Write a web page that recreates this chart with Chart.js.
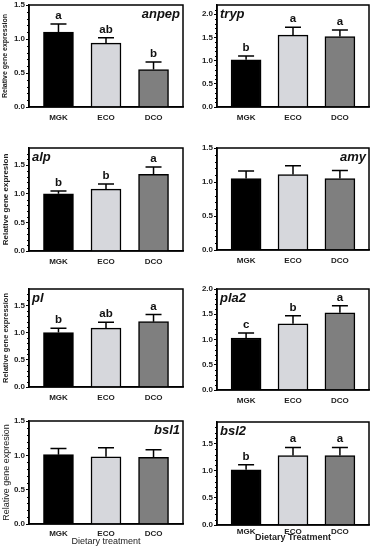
<!DOCTYPE html>
<html>
<head>
<meta charset="utf-8">
<script src="https://cdn.jsdelivr.net/npm/chart.js@4.4.0/dist/chart.umd.min.js"></script>
<style>
html, body { margin: 0; padding: 0; background: #fff; }
#wrap { position: relative; width: 374px; height: 550px; overflow: hidden; }
.panel { position: absolute; }
</style>
</head>
<body>
<div id="wrap"></div>
<script>
const categories = ['MGK', 'ECO', 'DCO'];
const genes = ['anpep', 'tryp', 'alp', 'amy', 'pl', 'pla2', 'bsl1', 'bsl2'];

// means and SEM (upper error)
const anpepMean = [1.10, 0.94, 0.55];  const anpepSem = [0.12, 0.08, 0.11];
const trypMean  = [1.02, 1.55, 1.52];  const trypSem  = [0.08, 0.17, 0.14];
const alpMean   = [1.00, 1.08, 1.34];  const alpSem   = [0.05, 0.09, 0.13];
const amyMean   = [1.05, 1.11, 1.05];  const amySem   = [0.11, 0.13, 0.12];
const plMean    = [1.00, 1.08, 1.20];  const plSem    = [0.08, 0.11, 0.13];
const pla2Mean  = [1.03, 1.31, 1.53];  const pla2Sem  = [0.10, 0.16, 0.14];
const bsl1Mean  = [1.01, 0.98, 0.97];  const bsl1Sem  = [0.09, 0.13, 0.11];
const bsl2Mean  = [1.02, 1.28, 1.28];  const bsl2Sem  = [0.09, 0.15, 0.15];

const meanValues = [anpepMean, trypMean, alpMean, amyMean, plMean, pla2Mean, bsl1Mean, bsl2Mean];
const semValues = [anpepSem, trypSem, alpSem, amySem, plSem, pla2Sem, bsl1Sem, bsl2Sem];
const letterLabels = [['a','ab','b'], ['b','a','a'], ['b','b','a'], [], ['b','ab','a'], ['c','b','a'], [], ['b','a','a']];
const yMaxValues = [1.5, 2.2, 1.8, 1.5, 1.8, 2.0, 1.5, 1.9];
const yTickLabels = ['0.0', '0.5', '1.0', '1.5', '2.0'];
const yTitles = ['Relative gene expression', '', 'Relative gene expresion', '', 'Relative gene expression', '', 'Relative gene expresion', ''];
const xTitles = ['', '', '', '', '', '', 'Dietary treatment', 'Dietary Treatment'];

const barColors = ['#000000', '#d6d7dc', '#7f7f7f'];
const FONT = "'Liberation Sans', Arial, sans-serif";

// panel placement: plot box top/bottom in page pixels
const boxes = [
  { col: 0, top: 5,   bottom: 107, gene: 'right', lp: 6, yt: { size: 7,   weight: 'bold' } },
  { col: 1, top: 5,   bottom: 107, gene: 'left',  lp: 6 },
  { col: 0, top: 148, bottom: 251, gene: 'left',  lp: 6, yt: { size: 8,   weight: 'bold' } },
  { col: 1, top: 148, bottom: 250, gene: 'right', lp: 6 },
  { col: 0, top: 289, bottom: 387, gene: 'left',  lp: 6, yt: { size: 7.5, weight: 'bold' } },
  { col: 1, top: 289, bottom: 390, gene: 'left',  lp: 6 },
  { col: 0, top: 421, bottom: 524, gene: 'right', lp: 5, yt: { size: 9, weight: 'normal' }, xt: { size: 9, weight: 'normal', pad: 2.6 } },
  { col: 1, top: 422, bottom: 525, gene: 'left',  lp: 1.5, xt: { size: 9, weight: 'bold', pad: 7 } }
];

const PAD_TOP = 6;

const panelDecor = {
  id: 'panelDecor',
  afterDatasetsDraw(chart, args, opts) {
    const ctx = chart.ctx;
    const area = chart.chartArea;
    const y = chart.scales.y;
    const meta = chart.getDatasetMeta(0);
    ctx.save();
    // minor ticks on the y axis
    ctx.strokeStyle = '#000';
    ctx.lineWidth = 1;
    for (let v = 0.1; v < y.max - 0.001; v += 0.1) {
      const r = Math.round(v * 10);
      if (r % 5 === 0) continue;
      const py = Math.round(y.getPixelForValue(v)) + 0.5;
      ctx.beginPath();
      ctx.moveTo(area.left - 2, py);
      ctx.lineTo(area.left, py);
      ctx.stroke();
    }
    // error bars
    ctx.lineWidth = 1.5;
    meta.data.forEach((bar, i) => {
      const top = y.getPixelForValue(opts.means[i] + opts.sems[i]);
      ctx.beginPath();
      ctx.moveTo(bar.x, bar.y);
      ctx.lineTo(bar.x, top);
      ctx.moveTo(bar.x - 8, top);
      ctx.lineTo(bar.x + 8, top);
      ctx.stroke();
      const letter = opts.letters[i];
      if (letter) {
        ctx.fillStyle = '#111';
        ctx.font = 'bold 11.5px ' + FONT;
        ctx.textAlign = 'center';
        ctx.textBaseline = 'alphabetic';
        ctx.fillText(letter, bar.x, top - 5);
      }
    });
    // frame
    ctx.lineWidth = 1.5;
    ctx.strokeRect(area.left, area.top, area.right - area.left, area.bottom - area.top);
    // gene name
    ctx.fillStyle = '#111';
    ctx.font = 'italic bold 13px ' + FONT;
    ctx.textBaseline = 'alphabetic';
    if (opts.align === 'right') {
      ctx.textAlign = 'right';
      ctx.fillText(opts.gene, area.right - 3, area.top + 13);
    } else {
      ctx.textAlign = 'left';
      ctx.fillText(opts.gene, area.left + 3, area.top + 13);
    }
    ctx.restore();
  }
};

const wrap = document.getElementById('wrap');

genes.forEach((gene, k) => {
  const b = boxes[k];
  const left = b.col === 0 ? 0 : 190;
  const width = b.col === 0 ? 190 : 184;
  const yAxisW = b.col === 0 ? 29 : 27;
  const padRight = b.col === 0 ? 7 : 5;
  const xAxisH = b.xt ? 550 - b.bottom : 18;
  const height = (b.bottom - b.top) + PAD_TOP + xAxisH;

  const div = document.createElement('div');
  div.className = 'panel';
  div.style.left = left + 'px';
  div.style.top = (b.top - PAD_TOP) + 'px';
  div.style.width = width + 'px';
  div.style.height = height + 'px';
  const canvas = document.createElement('canvas');
  div.appendChild(canvas);
  wrap.appendChild(div);

  new Chart(canvas.getContext('2d'), {
    type: 'bar',
    data: {
      datasets: [{
        data: meanValues[k].map((v, i) => ({ x: i, y: v })),
        backgroundColor: barColors,
        borderColor: '#000',
        borderWidth: 1.5,
        barThickness: 30
      }]
    },
    options: {
      responsive: true,
      maintainAspectRatio: false,
      animation: false,
      devicePixelRatio: 1,
      layout: { padding: { top: PAD_TOP, right: padRight, left: 0, bottom: 0 } },
      plugins: {
        legend: { display: false },
        tooltip: { enabled: false },
        panelDecor: {
          gene: gene,
          align: b.gene,
          means: meanValues[k],
          sems: semValues[k],
          letters: letterLabels[k]
        }
      },
      scales: {
        x: {
          type: 'linear',
          offset: false,
          min: -0.62,
          max: 2.62,
          afterBuildTicks: s => { s.ticks = categories.map((c, i) => ({ value: i })); },
          afterFit: s => { s.height = xAxisH; },
          grid: { display: false, drawTicks: false, tickLength: 0, offset: false },
          border: { display: true, color: '#000', width: 1.5 },
          ticks: {
            autoSkip: false,
            maxRotation: 0,
            padding: b.lp,
            color: '#222',
            font: { family: FONT, size: 8, weight: 'bold' },
            callback: v => categories[v]
          },
          title: {
            display: !!b.xt,
            text: xTitles[k],
            color: '#222',
            font: { family: FONT, size: b.xt ? b.xt.size : 9, weight: b.xt ? b.xt.weight : 'normal' },
            padding: { top: 0, bottom: b.xt ? b.xt.pad : 0 }
          }
        },
        y: {
          min: 0,
          max: yMaxValues[k],
          afterBuildTicks: s => {
            s.ticks = yTickLabels.map(Number).filter(v => v <= yMaxValues[k] + 1e-6).map(v => ({ value: v }));
          },
          afterFit: s => { s.width = yAxisW; },
          grid: { drawOnChartArea: false, drawTicks: true, tickLength: 3, color: '#000', lineWidth: 1 },
          border: { display: true, color: '#000', width: 1.5 },
          ticks: {
            padding: 1,
            color: '#222',
            font: { family: FONT, size: 8, weight: 'bold' },
            callback: v => yTickLabels[Math.round(v * 2)]
          },
          title: {
            display: !!yTitles[k],
            text: yTitles[k],
            color: '#222',
            font: { family: FONT, size: b.yt ? b.yt.size : 8, weight: b.yt ? b.yt.weight : 'bold' },
            padding: { top: 1, bottom: 0 }
          }
        }
      }
    },
    plugins: [panelDecor]
  });
});
</script>
</body>
</html>
